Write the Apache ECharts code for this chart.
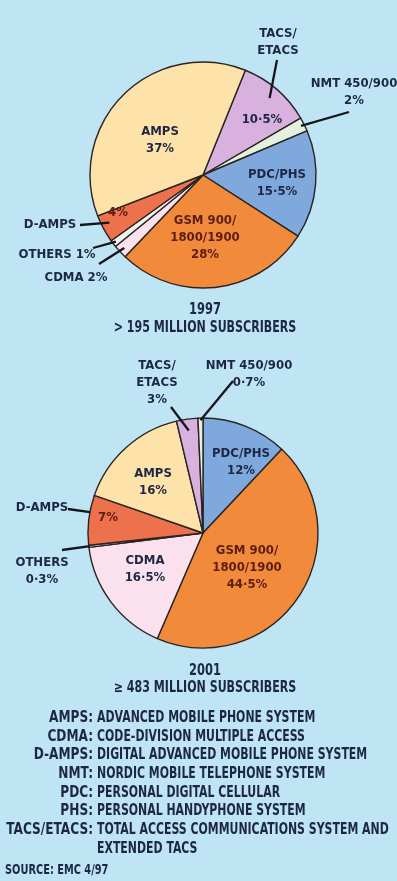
<!DOCTYPE html>
<html>
<head>
<meta charset="utf-8">
<script src="https://cdn.jsdelivr.net/npm/echarts@6/dist/echarts.min.js"></script>
<style>
  html, body { margin: 0; padding: 0; background: #bfe5f5; }
  #chart { width: 397px; height: 881px; }
</style>
</head>
<body>
<div id="chart"></div>
<script>
// ---- Subscriber share by cellular standard, 1997 (clockwise) ----
const names1997 = ['TACS/ETACS', 'NMT 450/900', 'PDC/PHS', 'GSM 900/1800/1900', 'CDMA', 'OTHERS', 'D-AMPS', 'AMPS'];
const share1997 = [10.5, 2, 15.5, 28, 2, 1, 4, 37];
const inside1997 = ['10·5%', '', 'PDC/PHS\n15·5%', 'GSM 900/\n1800/1900\n28%', '', '', '4%', 'AMPS\n37%'];
const callout1997 = ['TACS/\nETACS', 'NMT 450/900\n2%', '', '', 'CDMA 2%', 'OTHERS 1%', 'D-AMPS', ''];

// ---- Forecast share, 2001 (clockwise) ----
const names2001 = ['PDC/PHS', 'GSM 900/1800/1900', 'CDMA', 'OTHERS', 'D-AMPS', 'AMPS', 'TACS/ETACS', 'NMT 450/900'];
const share2001 = [12, 44.5, 16.5, 0.3, 7, 16, 3, 0.7];
const inside2001 = ['PDC/PHS\n12%', 'GSM 900/\n1800/1900\n44·5%', 'CDMA\n16·5%', '', '7%', 'AMPS\n16%', '', ''];
const callout2001 = ['', '', '', 'OTHERS\n0·3%', 'D-AMPS', '', 'TACS/\nETACS\n3%', 'NMT 450/900\n0·7%'];

// ---- Captions and glossary ----
const captions1997 = ['1997', '> 195 MILLION SUBSCRIBERS'];
const captions2001 = ['2001', '≥ 483 MILLION SUBSCRIBERS'];
const glossaryTerms = ['AMPS:', 'CDMA:', 'D-AMPS:', 'NMT:', 'PDC:', 'PHS:', 'TACS/ETACS:', ''];
const glossaryText = [
  'ADVANCED MOBILE PHONE SYSTEM',
  'CODE-DIVISION MULTIPLE ACCESS',
  'DIGITAL ADVANCED MOBILE PHONE SYSTEM',
  'NORDIC MOBILE TELEPHONE SYSTEM',
  'PERSONAL DIGITAL CELLULAR',
  'PERSONAL HANDYPHONE SYSTEM',
  'TOTAL ACCESS COMMUNICATIONS SYSTEM AND',
  'EXTENDED TACS'
];
const sourceNote = 'SOURCE: EMC 4/97';

// ---- Styling ----
const FONT = "'DejaVu Sans Condensed', 'Liberation Sans', sans-serif";
const INK = '#1d2743';
const WARM_INK = '#5c1d14';
const sliceColors = {
  'AMPS': '#fde2aa',
  'TACS/ETACS': '#d8b1de',
  'NMT 450/900': '#e4f2dd',
  'PDC/PHS': '#7fa8dc',
  'GSM 900/1800/1900': '#f28a3c',
  'CDMA': '#fae1ed',
  'OTHERS': '#f2f2ef',
  'D-AMPS': '#ec714c'
};
const warmText = { 'GSM 900/1800/1900': true, 'D-AMPS': true };
const LABEL_SIZE = 13;
const LABEL_LINE_H = 17;

// Pie geometry and label placement
const pies = [
  {
    center: [203, 175], radius: 113, startAngle: 68,
    names: names1997, values: share1997, inside: inside1997, callout: callout1997,
    insideSpots: [[262, 120], null, [277, 183], [205, 238], null, null, [118, 213], [160, 140]],
    // text centre, leader start, leader depth (fraction of radius), position across the slice
    calloutSpots: [
      { at: [278, 42], from: [277, 60], depth: 0.9, along: 0.5 },
      { at: [354, 92], from: [349, 112], depth: 0.97, along: 0.5 },
      null, null,
      { at: [76, 278], from: [99, 264], depth: 0.95, along: 0.5 },
      { at: [57, 255], from: [93, 248], depth: 0.97, along: 0.5 },
      { at: [50, 225], from: [80, 225], depth: 0.93, along: 0.6 },
      null
    ]
  },
  {
    center: [203, 533], radius: 115, startAngle: 90,
    names: names2001, values: share2001, inside: inside2001, callout: callout2001,
    insideSpots: [[241, 462], [247, 568], [145, 569], null, [108, 518], [153, 482], null, null],
    calloutSpots: [
      null, null, null,
      { at: [42, 571], from: [62, 550], depth: 0.99, along: 0.5 },
      { at: [42, 508], from: [68, 509], depth: 1.0, along: 0.66 },
      null,
      { at: [157, 383], from: [171, 407], depth: 0.9, along: 0.5 },
      { at: [249, 374], from: [233, 381], depth: 0.98, along: 0.5 }
    ]
  }
];

// Angle of a point partway across a slice (radians, ECharts convention:
// counter-clockwise from 3 o'clock, slices laid out clockwise)
function sliceAngle(values, idx, startAngle, along) {
  const total = values.reduce((a, b) => a + b, 0);
  let before = 0;
  for (let i = 0; i < idx; i++) before += values[i];
  const deg = startAngle - (before + values[idx] * along) / total * 360;
  return deg * Math.PI / 180;
}

const series = [];
pies.forEach(function (p) {
  // coloured slices with the labels that sit inside them
  series.push({
    type: 'pie',
    center: p.center,
    radius: p.radius,
    startAngle: p.startAngle,
    clockwise: true,
    avoidLabelOverlap: false,
    silent: true,
    itemStyle: { borderColor: '#2a2522', borderWidth: 1.4 },
    label: {
      position: 'inside',
      fontFamily: FONT, fontWeight: 'bold', fontSize: LABEL_SIZE, lineHeight: LABEL_LINE_H, color: INK
    },
    labelLine: { show: false },
    data: p.names.map(function (n, i) {
      return {
        name: n,
        value: p.values[i],
        itemStyle: { color: sliceColors[n] },
        label: {
          show: p.inside[i] !== '',
          formatter: p.inside[i],
          color: warmText[n] ? WARM_INK : INK
        }
      };
    }),
    labelLayout: function (prm) {
      const s = p.insideSpots[prm.dataIndex];
      if (!s) return {};
      return { x: s[0], y: s[1], align: 'center', verticalAlign: 'middle' };
    }
  });
  // transparent overlay carrying the outside labels and leader lines
  series.push({
    type: 'pie',
    center: p.center,
    radius: p.radius,
    startAngle: p.startAngle,
    clockwise: true,
    avoidLabelOverlap: false,
    silent: true,
    z: 3,
    itemStyle: { color: 'rgba(0,0,0,0)', borderWidth: 0 },
    label: {
      position: 'outside',
      fontFamily: FONT, fontWeight: 'bold', fontSize: LABEL_SIZE, lineHeight: LABEL_LINE_H, color: INK
    },
    labelLine: { show: true, smooth: false, lineStyle: { color: '#15151a', width: 2.3 } },
    data: p.names.map(function (n, i) {
      const has = p.callout[i] !== '';
      return {
        name: n,
        value: p.values[i],
        label: { show: has, formatter: p.callout[i] },
        labelLine: { show: has }
      };
    }),
    labelLayout: function (prm) {
      const s = p.calloutSpots[prm.dataIndex];
      if (!s) return {};
      const a = sliceAngle(p.values, prm.dataIndex, p.startAngle, s.along);
      const r = p.radius * s.depth;
      const end = [p.center[0] + r * Math.cos(a), p.center[1] - r * Math.sin(a)];
      return {
        x: s.at[0], y: s.at[1], align: 'center', verticalAlign: 'middle',
        labelLinePoints: [s.from, end, end]
      };
    }
  });
});

// Captions under each pie and the glossary block (condensed lettering)
function caption(txt, x, y, align, size, squeeze) {
  return {
    type: 'text', x: x, y: y, scaleX: squeeze,
    style: {
      text: txt, fill: INK, font: 'bold ' + size + 'px ' + FONT,
      textAlign: align, textVerticalAlign: 'middle'
    }
  };
}
const graphics = [
  caption(captions1997[0], 205, 310, 'center', 15, 0.85),
  caption(captions1997[1], 205, 328, 'center', 15, 0.82),
  caption(captions2001[0], 205, 671, 'center', 15, 0.85),
  caption(captions2001[1], 205, 688, 'center', 15, 0.82)
];
glossaryTerms.forEach(function (t, i) {
  const y = 718 + i * 18.7;
  if (t) graphics.push(caption(t, 93, y, 'right', 15, 0.9));
  graphics.push(caption(glossaryText[i], 97, y, 'left', 15, 0.81));
});
graphics.push(caption(sourceNote, 5, 870, 'left', 14, 0.78));

const chart = echarts.init(document.getElementById('chart'), null, { renderer: 'canvas' });
chart.setOption({
  backgroundColor: '#bfe5f5',
  animation: false,
  series: series,
  graphic: graphics
});
</script>
</body>
</html>
